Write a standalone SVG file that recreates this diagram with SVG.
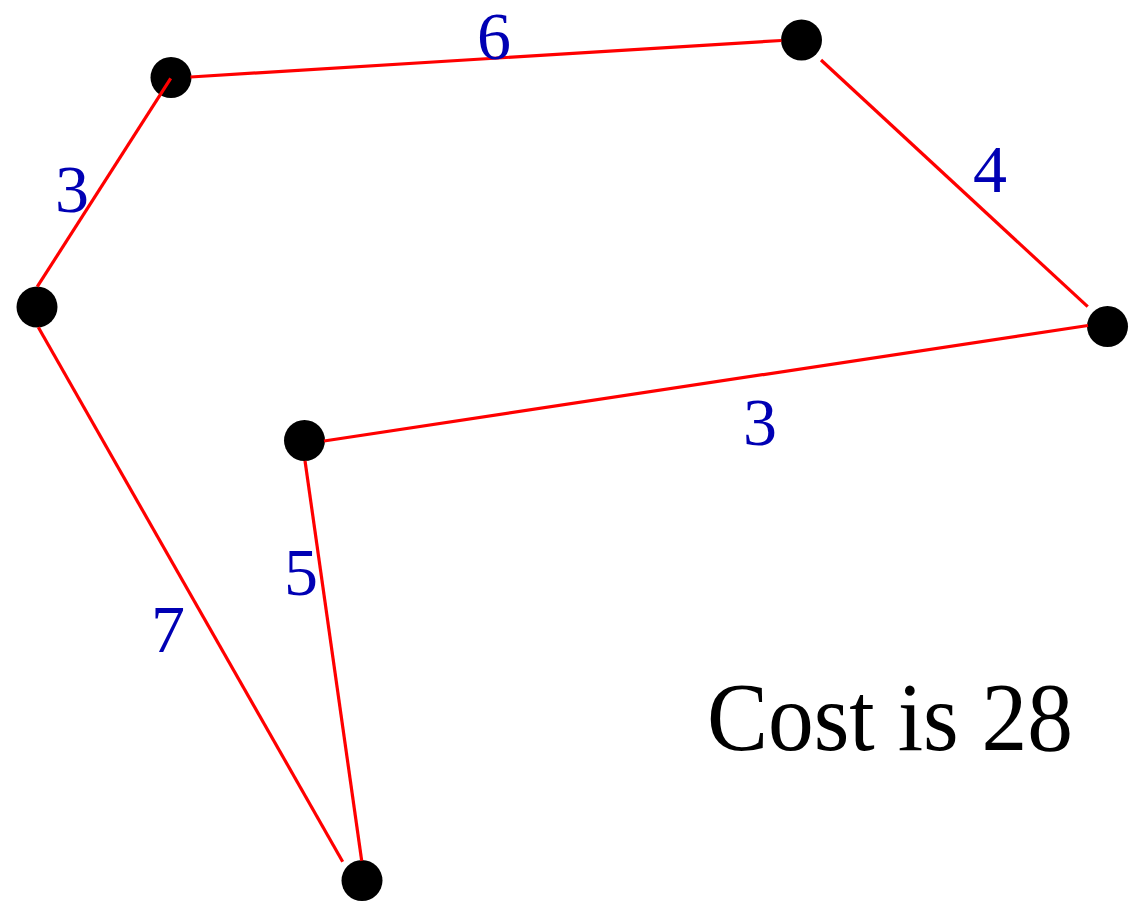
<svg xmlns="http://www.w3.org/2000/svg" width="1135" height="912" viewBox="0 0 1135 912">
<style>
.edge{stroke:#ff0000;stroke-width:3.2;fill:none;stroke-linecap:butt}
.node{fill:#000}
.lbl{font-family:"Liberation Serif","Times New Roman",serif;font-size:68px;fill:#0000b4;text-anchor:middle}
.cost{font-family:"Liberation Serif","Times New Roman",serif;font-size:98px;fill:#000}
</style>
<rect width="1135" height="912" fill="#fff"/>
<g id="nodes">
<circle id="nA" class="node" cx="171" cy="77.5" r="20.5"/>
<circle id="nB" class="node" cx="801.5" cy="40" r="20.5"/>
<circle id="nC" class="node" cx="37" cy="307" r="20.5"/>
<circle id="nD" class="node" cx="1107.5" cy="326.5" r="20.5"/>
<circle id="nE" class="node" cx="304.5" cy="440.5" r="20.5"/>
<circle id="nF" class="node" cx="362" cy="880.5" r="20.5"/>
</g>
<g id="connectors">
<line class="edge" x1="190.5" y1="77" x2="781.5" y2="40.5"/>
<line class="edge" x1="821" y1="60" x2="1087.7" y2="306.7"/>
<line class="edge" x1="1088" y1="325.5" x2="324" y2="441"/>
<line class="edge" x1="305" y1="460.7" x2="361.7" y2="860.7"/>
<line class="edge" x1="38.3" y1="327.3" x2="342.7" y2="861.7"/>
<line class="edge" x1="37.3" y1="286.7" x2="170.7" y2="78.3"/>
</g>
<g id="labels">
<text class="lbl" x="494" y="59">6</text>
<text class="lbl" x="72" y="212">3</text>
<text class="lbl" x="990" y="192">4</text>
<text class="lbl" x="760" y="445">3</text>
<text class="lbl" x="301" y="595">5</text>
<text class="lbl" x="168" y="652">7</text>
<text class="cost" x="707" y="750" textLength="366" lengthAdjust="spacingAndGlyphs">Cost is 28</text>
</g>
</svg>
